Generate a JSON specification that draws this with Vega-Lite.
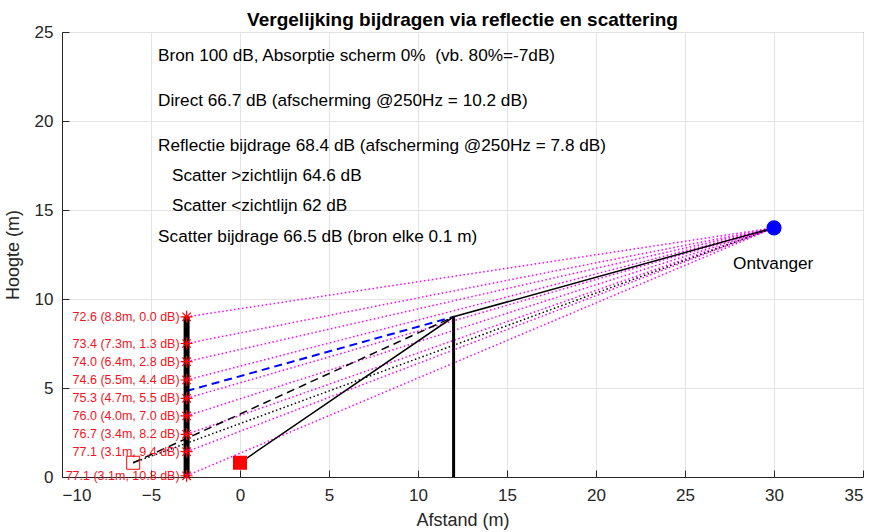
{
  "$schema": "https://vega.github.io/schema/vega-lite/v6.json",
  "width": 801,
  "height": 445,
  "autosize": {"type": "none"},
  "padding": {"left": 62, "top": 32, "right": 9, "bottom": 55},
  "background": "white",
  "title": {
    "text": "Vergelijking bijdragen via reflectie en scattering",
    "font": "Liberation Sans",
    "fontSize": 19,
    "fontWeight": "bold",
    "color": "#000000",
    "anchor": "middle",
    "baseline": "alphabetic",
    "offset": -22
  },
  "config": {
    "view": {"stroke": "#262626", "strokeWidth": 1},
    "axis": {
      "labelFont": "Liberation Sans",
      "titleFont": "Liberation Sans",
      "labelFontSize": 17,
      "titleFontSize": 18,
      "titleFontWeight": "normal",
      "labelColor": "#262626",
      "titleColor": "#262626",
      "domainColor": "#262626",
      "tickColor": "#262626",
      "gridColor": "#e3e3e3",
      "gridOpacity": 1,
      "tickSize": -7
    }
  },
  "datasets": {
    "paths": [
      {"id": "s1", "kind": "scatter", "o": 0, "x": -3, "y": 9.0},
      {"id": "s1", "kind": "scatter", "o": 1, "x": 30, "y": 14},
      {"id": "s2", "kind": "scatter", "o": 0, "x": -3, "y": 7.5},
      {"id": "s2", "kind": "scatter", "o": 1, "x": 30, "y": 14},
      {"id": "s3", "kind": "scatter", "o": 0, "x": -3, "y": 6.48},
      {"id": "s3", "kind": "scatter", "o": 1, "x": 30, "y": 14},
      {"id": "s4", "kind": "scatter", "o": 0, "x": -3, "y": 5.45},
      {"id": "s4", "kind": "scatter", "o": 1, "x": 30, "y": 14},
      {"id": "s5", "kind": "scatter", "o": 0, "x": -3, "y": 4.42},
      {"id": "s5", "kind": "scatter", "o": 1, "x": 30, "y": 14},
      {"id": "s6", "kind": "scatter", "o": 0, "x": -3, "y": 3.43},
      {"id": "s6", "kind": "scatter", "o": 1, "x": 30, "y": 14},
      {"id": "s7", "kind": "scatter", "o": 0, "x": -3, "y": 2.4},
      {"id": "s7", "kind": "scatter", "o": 1, "x": 30, "y": 14},
      {"id": "s8", "kind": "scatter", "o": 0, "x": -3, "y": 1.42},
      {"id": "s8", "kind": "scatter", "o": 1, "x": 30, "y": 14},
      {"id": "s9", "kind": "scatter", "o": 0, "x": -3, "y": 0.07},
      {"id": "s9", "kind": "scatter", "o": 1, "x": 30, "y": 14},
      {"id": "dot", "kind": "dotted", "o": 0, "x": -6, "y": 0.8},
      {"id": "dot", "kind": "dotted", "o": 1, "x": 30, "y": 14},
      {"id": "dash", "kind": "dashed", "o": 0, "x": -6, "y": 0.8},
      {"id": "dash", "kind": "dashed", "o": 1, "x": 12, "y": 9},
      {"id": "blue", "kind": "blue", "o": 0, "x": -3, "y": 4.83},
      {"id": "blue", "kind": "blue", "o": 1, "x": 12, "y": 9},
      {"id": "solid", "kind": "solid", "o": 0, "x": 0, "y": 0.8},
      {"id": "solid", "kind": "solid", "o": 1, "x": 12, "y": 9},
      {"id": "solid", "kind": "solid", "o": 2, "x": 30, "y": 14},
      {"id": "wall", "kind": "wall", "o": 0, "x": -3, "y": 0},
      {"id": "wall", "kind": "wall", "o": 1, "x": -3, "y": 9},
      {"id": "screen", "kind": "screen", "o": 0, "x": 12, "y": 0},
      {"id": "screen", "kind": "screen", "o": 1, "x": 12, "y": 9}
    ],
    "stars": [
      {"x": -3, "y": 9.0, "label": "72.6 (8.8m, 0.0 dB)"},
      {"x": -3, "y": 7.5, "label": "73.4 (7.3m, 1.3 dB)"},
      {"x": -3, "y": 6.48, "label": "74.0 (6.4m, 2.8 dB)"},
      {"x": -3, "y": 5.45, "label": "74.6 (5.5m, 4.4 dB)"},
      {"x": -3, "y": 4.42, "label": "75.3 (4.7m, 5.5 dB)"},
      {"x": -3, "y": 3.43, "label": "76.0 (4.0m, 7.0 dB)"},
      {"x": -3, "y": 2.4, "label": "76.7 (3.4m, 8.2 dB)"},
      {"x": -3, "y": 1.42, "label": "77.1 (3.1m, 9.4 dB)"},
      {"x": -3, "y": 0.07, "label": "77.1 (3.1m, 10.8 dB)"}
    ],
    "objects": [
      {"name": "bron", "x": 0, "y": 0.8},
      {"name": "spiegelbron", "x": -6, "y": 0.8},
      {"name": "ontvanger", "x": 30, "y": 14}
    ],
    "notes": [
      {"x": -4.6, "y": 23.65, "text": "Bron 100 dB, Absorptie scherm 0% \u00a0(vb. 80%=-7dB)"},
      {"x": -4.6, "y": 21.15, "text": "Direct 66.7 dB (afscherming @250Hz = 10.2 dB)"},
      {"x": -4.6, "y": 18.6, "text": "Reflectie bijdrage 68.4 dB (afscherming @250Hz = 7.8 dB)"},
      {"x": -3.82, "y": 16.9, "text": "Scatter >zichtlijn 64.6 dB"},
      {"x": -3.82, "y": 15.2, "text": "Scatter <zichtlijn 62 dB"},
      {"x": -4.6, "y": 13.5, "text": "Scatter bijdrage 66.5 dB (bron elke 0.1 m)"},
      {"x": 27.7, "y": 11.97, "text": "Ontvanger"}
    ]
  },
  "encoding": {
    "x": {
      "field": "x", "type": "quantitative",
      "scale": {"domain": [-10, 35], "nice": false, "zero": false},
      "axis": {"title": "Afstand (m)", "values": [-10, -5, 0, 5, 10, 15, 20, 25, 30, 35], "labelPadding": 17, "titlePadding": 8, "domain": true}
    },
    "y": {
      "field": "y", "type": "quantitative",
      "scale": {"domain": [0, 25], "nice": false, "zero": false},
      "axis": {"title": "Hoogte (m)", "values": [0, 5, 10, 15, 20, 25], "labelPadding": 16, "titlePadding": 12, "domain": true}
    }
  },
  "layer": [
    {
      "data": {"name": "paths"},
      "transform": [{"filter": "datum.kind === 'scatter'"}],
      "mark": {"type": "line", "color": "#ff00ff", "strokeWidth": 1.5, "strokeDash": [1.5, 2.5]},
      "encoding": {"detail": {"field": "id"}, "order": {"field": "o"}}
    },
    {
      "data": {"name": "paths"},
      "transform": [{"filter": "datum.kind === 'dotted'"}],
      "mark": {"type": "line", "color": "#000000", "strokeWidth": 1.5, "strokeDash": [1.5, 2.5]},
      "encoding": {"detail": {"field": "id"}, "order": {"field": "o"}}
    },
    {
      "data": {"name": "paths"},
      "transform": [{"filter": "datum.kind === 'dashed'"}],
      "mark": {"type": "line", "color": "#000000", "strokeWidth": 1.5, "strokeDash": [8, 5]},
      "encoding": {"detail": {"field": "id"}, "order": {"field": "o"}}
    },
    {
      "data": {"name": "paths"},
      "transform": [{"filter": "datum.kind === 'blue'"}],
      "mark": {"type": "line", "color": "#0000ff", "strokeWidth": 2, "strokeDash": [8, 5]},
      "encoding": {"detail": {"field": "id"}, "order": {"field": "o"}}
    },
    {
      "data": {"name": "paths"},
      "transform": [{"filter": "datum.kind === 'solid'"}],
      "mark": {"type": "line", "color": "#000000", "strokeWidth": 1.5},
      "encoding": {"detail": {"field": "id"}, "order": {"field": "o"}}
    },
    {
      "data": {"name": "paths"},
      "transform": [{"filter": "datum.kind === 'wall'"}],
      "mark": {"type": "line", "color": "#000000", "strokeWidth": 6},
      "encoding": {"detail": {"field": "id"}, "order": {"field": "o"}}
    },
    {
      "data": {"name": "paths"},
      "transform": [{"filter": "datum.kind === 'screen'"}],
      "mark": {"type": "line", "color": "#000000", "strokeWidth": 3},
      "encoding": {"detail": {"field": "id"}, "order": {"field": "o"}}
    },
    {
      "data": {"name": "stars"},
      "mark": {"type": "point", "shape": "M-1,0L1,0M0,-1L0,1M-0.7,-0.7L0.7,0.7M-0.7,0.7L0.7,-0.7", "size": 144, "filled": false, "stroke": "#ff0000", "strokeWidth": 1.2, "opacity": 1}
    },
    {
      "data": {"name": "stars"},
      "mark": {"type": "text", "align": "right", "baseline": "middle", "dx": -7, "font": "Liberation Sans", "fontSize": 12.5, "color": "#f0141e"},
      "encoding": {"text": {"field": "label"}}
    },
    {
      "data": {"name": "objects"},
      "transform": [{"filter": "datum.name === 'bron'"}],
      "mark": {"type": "square", "size": 196, "color": "#ff0000", "filled": true, "opacity": 1}
    },
    {
      "data": {"name": "objects"},
      "transform": [{"filter": "datum.name === 'spiegelbron'"}],
      "mark": {"type": "square", "size": 170, "filled": false, "stroke": "#ff0000", "strokeWidth": 1, "opacity": 1}
    },
    {
      "data": {"name": "objects"},
      "transform": [{"filter": "datum.name === 'ontvanger'"}],
      "mark": {"type": "circle", "size": 230, "color": "#0000ff", "opacity": 1}
    },
    {
      "data": {"name": "notes"},
      "mark": {"type": "text", "align": "left", "baseline": "middle", "font": "Liberation Sans", "fontSize": 17.2, "color": "#000000"},
      "encoding": {"text": {"field": "text"}}
    }
  ]
}
